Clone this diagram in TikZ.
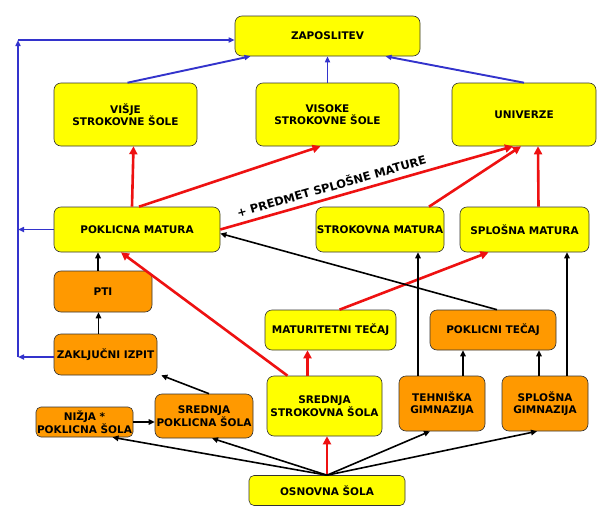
\documentclass[tikz,border=0pt]{standalone}
\usepackage{fontspec}
\setmainfont{DejaVu Sans}
\usetikzlibrary{arrows.meta,calc}
\definecolor{boxyellow}{RGB}{255,255,0}
\definecolor{boxorange}{RGB}{255,153,0}
\definecolor{lineblue}{RGB}{51,51,204}
\definecolor{linered}{RGB}{238,17,17}
\tikzset{
  box/.style={draw=black!80, line width=0.6pt, rounded corners=7pt, inner sep=0pt, align=center,
     font=\bfseries\fontsize{10.5}{12.5}\selectfont},
  ybox/.style={box, fill=boxyellow},
  obox/.style={box, fill=boxorange},
  redarr/.style={draw=linered, line width=2.6pt, -{Triangle[length=8pt,width=8pt]}},
  blkarr/.style={draw=black, line width=1.6pt, -{Triangle[length=6pt,width=5.5pt]}},
  bluearr/.style={draw=lineblue, line width=1.9pt, -{Triangle[length=6pt,width=5pt]}},
}
\begin{document}
\begin{tikzpicture}[x=1pt,y=-1pt]
\useasboundingbox (0,0) rectangle (614,525);
\fill[white] (0,0) rectangle (614,525);
% nodes
\node[ybox, minimum width=185pt, minimum height=40pt] (zap) at (327.5,36) {ZAPOSLITEV};
\node[ybox, minimum width=143pt, minimum height=63pt] (visje) at (125.5,114.5) {VIŠJE\\STROKOVNE ŠOLE};
\node[ybox, minimum width=143pt, minimum height=63pt] (visoke) at (327.5,114.5) {VISOKE\\STROKOVNE ŠOLE};
\node[ybox, minimum width=144pt, minimum height=63pt] (univ) at (524,114.5) {UNIVERZE};
\node[ybox, minimum width=166pt, minimum height=45pt] (pm) at (137,229.5) {POKLICNA MATURA};
\node[ybox, minimum width=128pt, minimum height=45pt] (sm) at (380,229.5) {STROKOVNA MATURA};
\node[ybox, minimum width=129pt, minimum height=45pt] (splm) at (524.5,229.5) {SPLOŠNA MATURA};
\node[obox, minimum width=98pt, minimum height=41pt] (pti) at (103,291.5) {PTI};
\node[obox, minimum width=103pt, minimum height=41pt] (zak) at (105.5,354.5) {ZAKLJUČNI IZPIT};
\node[ybox, minimum width=131pt, minimum height=40pt] (mt) at (330.5,330) {MATURITETNI TEČAJ};
\node[obox, minimum width=126pt, minimum height=40pt] (pt) at (493,330) {POKLICNI TEČAJ};
\node[ybox, minimum width=115pt, minimum height=60pt] (sss) at (324.5,406) {SREDNJA\\STROKOVNA ŠOLA};
\node[obox, minimum width=86pt, minimum height=55pt] (tg) at (442,403.5) {TEHNIŠKA\\GIMNAZIJA};
\node[obox, minimum width=86pt, minimum height=55pt] (sg) at (545,403.5) {SPLOŠNA\\GIMNAZIJA};
\node[obox, minimum width=98pt, minimum height=44pt] (sps) at (204,416) {SREDNJA\\POKLICNA ŠOLA};
\node[obox, minimum width=97pt, minimum height=30pt, rounded corners=5pt] (nps) at (84.5,422) {NIŽJA *\\POKLICNA ŠOLA};
\node[ybox, minimum width=156pt, minimum height=30pt, rounded corners=5pt] (os) at (327,490.5) {OSNOVNA ŠOLA};
% blue connectors
\coordinate (bz) at (18,357);
\coordinate (bp) at (18,229.5);
\coordinate (bt) at (18,40);
\draw[bluearr] (zak.west |- bz) -- (bz);
\draw[bluearr] (pm.west) -- (bp);
\draw[bluearr] (bz) -- (bt);
\draw[bluearr] (bt) -- (zap.west |- bt);
\draw[bluearr] ([xshift=2pt]visje.north) -- ([xshift=-77pt]zap.south);
\draw[bluearr] (visoke.north) -- (zap.south);
\draw[bluearr] (univ.north) -- ([xshift=58pt]zap.south);
% red connectors
\draw[redarr] ([xshift=-5pt]pm.north) -- ([xshift=8pt]visje.south);
\draw[redarr] ([xshift=2pt]pm.north) -- ([xshift=-7pt]visoke.south);
\draw[redarr] (pm.east) -- node[pos=0.39, above=2pt, sloped, text=black, font=\bfseries\fontsize{11.5}{13}\selectfont]{+ PREDMET SPLOŠNE MATURE} ([xshift=-11pt]univ.south);
\draw[redarr] ([xshift=49pt]sm.north) -- ([xshift=-3pt]univ.south);
\draw[redarr] ([xshift=14pt]splm.north) -- ([xshift=14pt]univ.south);
\draw[redarr] ([xshift=-37pt]sss.north) -- ([xshift=-16pt]pm.south);
\draw[redarr] ([xshift=-17pt]sss.north) -- (mt.south -| {$(sss.north)+(-17pt,0)$});
\draw[redarr] ([xshift=9pt]mt.north) -- ([xshift=-36pt]splm.south);
\draw[redarr] (os.north) -- (sss.south -| os.north);
% black connectors
\draw[blkarr] ([xshift=-5pt]pti.north) -- (pm.south -| {$(pti.north)+(-5pt,0)$});
\draw[blkarr] ([xshift=-7pt]zak.north) -- (pti.south -| {$(zak.north)+(-7pt,0)$});
\draw[blkarr] ([xshift=4pt]pt.north) -- ([yshift=-4pt]pm.east);
\draw[blkarr] ([xshift=-24pt]tg.north) -- (sm.south -| {$(tg.north)+(-24pt,0)$});
\draw[blkarr] ([xshift=21pt]tg.north) -- (pt.south -| {$(tg.north)+(21pt,0)$});
\draw[blkarr] ([xshift=-6pt]sg.north) -- (pt.south -| {$(sg.north)+(-6pt,0)$});
\draw[blkarr] ([xshift=22pt]sg.north) -- (splm.south -| {$(sg.north)+(22pt,0)$});
\draw[blkarr] ([xshift=5pt]sps.north) -- ([xshift=4pt]zak.south east);
\draw[blkarr] (nps.east) -- (sps.west |- nps.east);
\draw[blkarr] (os.north) -- ([xshift=28pt]nps.south);
\draw[blkarr] (os.north) -- ([xshift=8pt]sps.south);
\draw[blkarr] (os.north) -- ([xshift=-12pt]tg.south);
\draw[blkarr] (os.north) -- ([xshift=-8pt]sg.south);
\end{tikzpicture}
\end{document}
